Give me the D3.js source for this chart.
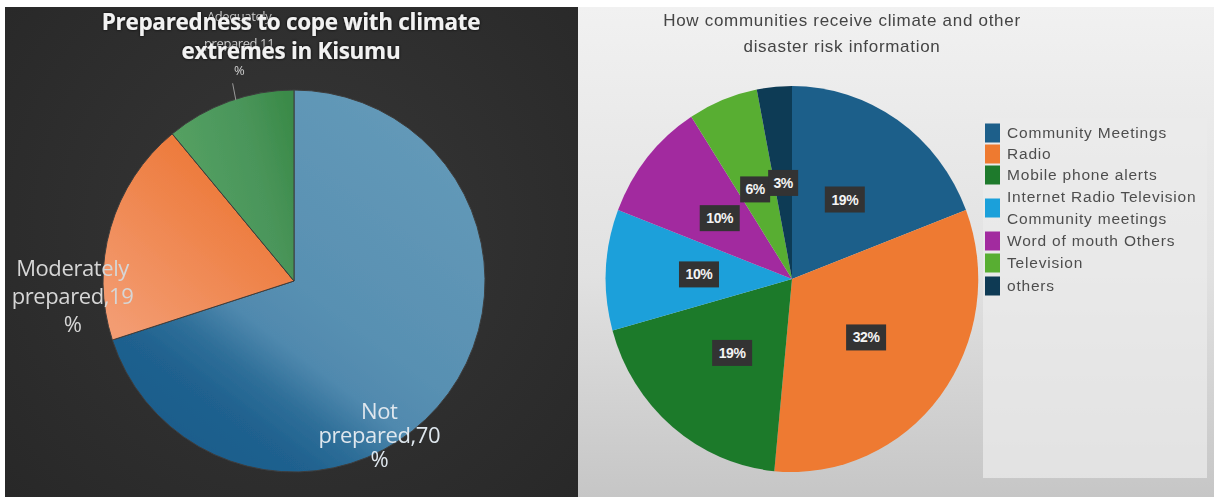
<!DOCTYPE html>
<html>
<head>
<meta charset="utf-8">
<script src="https://cdn.jsdelivr.net/npm/d3@7"></script>
<style>
  body { margin: 0; background: #ffffff; }
  svg { display: block; }
</style>
</head>
<body>
<svg id="chart" width="1214" height="497"></svg>
<script>
// ---- data ----
const prepTitle = ["Preparedness to cope with climate", "extremes in Kisumu"];
const prepCategories = ["Not prepared", "Moderately prepared", "Adequately prepared"];
const prepValues = [70, 19, 11];

const infoTitle = ["How communities receive climate and other", "disaster risk information"];
const infoCategories = [
  "Community Meetings",
  "Radio",
  "Mobile phone alerts",
  "Internet Radio Television Community meetings",
  "Word of mouth Others",
  "Television",
  "others"
];
const infoLegendLines = [
  ["Community Meetings"],
  ["Radio"],
  ["Mobile phone alerts"],
  ["Internet Radio Television", "Community meetings"],
  ["Word of mouth Others"],
  ["Television"],
  ["others"]
];
const infoValues = [19, 32, 19, 10, 10, 6, 3];

// ---- styling / layout ----
const infoColors = ["#1d5f8a", "#ee7a30", "#1e7a2c", "#1ba0da", "#a22b9f", "#58ae32", "#0e3a54"];
const prepFills = ["url(#gBlue)", "url(#gOrange)", "url(#gGreen)"];
// label anchors as [angle in degrees clockwise from 12 o'clock, distance from pie centre]
const prepLabelPolar = [[151, 176], [266, 222], [347, 244]];
const prepLabelStyle = [
  { size: 22, color: "#dfe7ee", lh: 24 },
  { size: 22, color: "#d6d6d6", lh: 28 },
  { size: 13, color: "#cfcfcf", lh: 27 }
];

const svg = d3.select("#chart");
const defs = svg.append("defs");

// panel backgrounds
const bgL = defs.append("radialGradient").attr("id", "bgLeft")
  .attr("gradientUnits", "userSpaceOnUse").attr("cx", 300).attr("cy", 230).attr("r", 420);
bgL.append("stop").attr("offset", 0).attr("stop-color", "#373737");
bgL.append("stop").attr("offset", 1).attr("stop-color", "#272727");

const bgR = defs.append("linearGradient").attr("id", "bgRight")
  .attr("x1", 0).attr("y1", 0).attr("x2", 0).attr("y2", 1);
bgR.append("stop").attr("offset", 0).attr("stop-color", "#f1f1f1");
bgR.append("stop").attr("offset", 0.55).attr("stop-color", "#e1e1e1");
bgR.append("stop").attr("offset", 1).attr("stop-color", "#c6c6c6");

// slice shading for the left pie (coordinates relative to the pie centre)
const gBlue = defs.append("linearGradient").attr("id", "gBlue")
  .attr("gradientUnits", "userSpaceOnUse").attr("x1", 120).attr("y1", -160).attr("x2", -120).attr("y2", 160);
[[0, "#6399b8"], [0.5, "#5890b2"], [0.64, "#5089ae"], [0.75, "#2f6f99"], [0.85, "#20628f"], [1, "#1b5c8b"]]
  .forEach(([o, c]) => gBlue.append("stop").attr("offset", o).attr("stop-color", c));

const gOrange = defs.append("linearGradient").attr("id", "gOrange")
  .attr("gradientUnits", "userSpaceOnUse").attr("x1", -34).attr("y1", -111).attr("x2", -174).attr("y2", 49);
gOrange.append("stop").attr("offset", 0).attr("stop-color", "#ec7533");
gOrange.append("stop").attr("offset", 1).attr("stop-color", "#f39c72");

const gGreen = defs.append("linearGradient").attr("id", "gGreen")
  .attr("gradientUnits", "userSpaceOnUse").attr("x1", -114).attr("y1", -131).attr("x2", 0).attr("y2", -161);
gGreen.append("stop").attr("offset", 0).attr("stop-color", "#54a062");
gGreen.append("stop").attr("offset", 0.6).attr("stop-color", "#4a955a");
gGreen.append("stop").attr("offset", 1).attr("stop-color", "#3a8a48");

const glow = defs.append("filter").attr("id", "glow")
  .attr("x", "-10%").attr("y", "-30%").attr("width", "120%").attr("height", "160%");
glow.append("feDropShadow").attr("dx", 0).attr("dy", 0).attr("stdDeviation", 1.6)
  .attr("flood-color", "#000").attr("flood-opacity", 0.9);

const soft = defs.append("filter").attr("id", "soft");
soft.append("feGaussianBlur").attr("stdDeviation", 0.45);

// ================= left panel =================
svg.append("rect").attr("x", 5).attr("y", 7).attr("width", 573).attr("height", 490)
  .attr("fill", "url(#bgLeft)");

const L = { cx: 294, cy: 281, r: 191 };
const prepPie = d3.pie().sort(null).value(d => d)(prepValues);
const prepArc = d3.arc().innerRadius(0).outerRadius(L.r);
const gL = svg.append("g").attr("transform", `translate(${L.cx},${L.cy})`);

gL.selectAll("path.slice").data(prepPie).join("path")
  .attr("class", "slice")
  .attr("d", prepArc)
  .attr("fill", (d, i) => prepFills[i])
  .attr("stroke", "#3d3d3d")
  .attr("stroke-width", 1)
  .attr("filter", "url(#soft)");

// leader line for the small slice
const small = prepPie[2];
const leadAng = small.startAngle + (small.endAngle - small.startAngle) * 0.55;
const p0 = d3.pointRadial(leadAng, L.r - 1);
const p1 = d3.pointRadial(leadAng + 0.01, L.r + 16);
gL.append("line").attr("x1", p0[0]).attr("y1", p0[1]).attr("x2", p1[0]).attr("y2", p1[1])
  .attr("stroke", "#9a9a9a").attr("stroke-width", 1);

// slice labels "Name,value %"
prepCategories.forEach((name, i) => {
  const words = name.split(" ");
  const lines = [words.slice(0, -1).join(" "), words[words.length - 1] + "," + prepValues[i], "%"];
  const [ang, dist] = prepLabelPolar[i];
  const [x, y] = d3.pointRadial(ang * Math.PI / 180, dist);
  const st = prepLabelStyle[i];
  const t = gL.append("text")
    .attr("text-anchor", "middle")
    .attr("font-family", "'Open Sans', 'Noto Sans', sans-serif")
    .attr("font-size", st.size)
    .attr("letter-spacing", -0.4)
    .attr("fill", st.color)
    .attr("filter", "url(#soft)");
  lines.forEach((ln, k) => {
    t.append("tspan").attr("x", x).attr("y", y + (k - 1) * st.lh + st.size * 0.35).text(ln);
  });
});

// title
const tL = svg.append("text")
  .attr("text-anchor", "middle")
  .attr("font-family", "'Open Sans', 'Noto Sans', sans-serif")
  .attr("font-weight", 700)
  .attr("font-size", 22.5)
  .attr("letter-spacing", -0.3)
  .attr("fill", "#f2f2f2")
  .attr("filter", "url(#glow)");
prepTitle.forEach((ln, k) => tL.append("tspan").attr("x", 291).attr("y", 30 + k * 29).text(ln));

// ================= right panel =================
svg.append("rect").attr("x", 578).attr("y", 7).attr("width", 636).attr("height", 490)
  .attr("fill", "url(#bgRight)");

// legend backdrop
svg.append("rect").attr("x", 983).attr("y", 118).attr("width", 224).attr("height", 360)
  .attr("fill", "#ebebeb").attr("opacity", 0.75);

const R = { cx: 792, cy: 279, r: 193, sx: 0.965 };
const infoPie = d3.pie().sort(null).value(d => d)(infoValues);
const infoArc = d3.arc().innerRadius(0).outerRadius(R.r);
const gR = svg.append("g").attr("transform", `translate(${R.cx},${R.cy})`);

gR.append("g").attr("transform", `scale(${R.sx},1)`)
  .selectAll("path").data(infoPie).join("path")
  .attr("d", infoArc)
  .attr("fill", (d, i) => infoColors[i])
  .attr("filter", "url(#soft)");

// value tags
const tagH = 26;
const tags = infoPie.map((d, i) => {
  const c = infoArc.centroid(d);
  const label = infoValues[i] + "%";
  const w = label.length >= 3 ? 40 : 30;
  return { x: c[0] * R.sx, y: c[1], w, label };
});
// keep neighbouring tags from covering each other
for (let i = tags.length - 2; i >= 0; i--) {
  const a = tags[i], b = tags[i + 1];
  const overlapX = (a.w + b.w) / 2 - Math.abs(a.x - b.x);
  const overlapY = tagH - Math.abs(a.y - b.y);
  if (overlapX > 0 && overlapY > 0 && a.x < b.x) a.x -= overlapX - 2;
}
const tagG = gR.selectAll("g.tag").data(tags).join("g")
  .attr("class", "tag")
  .attr("transform", d => `translate(${d.x},${d.y})`);
tagG.append("rect")
  .attr("x", d => -d.w / 2).attr("y", -tagH / 2)
  .attr("width", d => d.w).attr("height", tagH)
  .attr("fill", "#333333");
tagG.append("text")
  .attr("text-anchor", "middle")
  .attr("dy", "0.36em")
  .attr("font-family", "'Liberation Sans', Arial, sans-serif")
  .attr("font-weight", 700)
  .attr("font-size", 14)
  .attr("letter-spacing", -0.4)
  .attr("fill", "#f4f4f4")
  .text(d => d.label);

// legend
const legY = [133, 154, 175, 208, 241, 263, 286];
const legend = svg.append("g").attr("transform", "translate(985,0)");
infoLegendLines.forEach((lines, i) => {
  legend.append("rect")
    .attr("x", 0).attr("y", legY[i] - 9.5)
    .attr("width", 15).attr("height", 19)
    .attr("fill", infoColors[i]);
  const t = legend.append("text")
    .attr("font-family", "'Liberation Sans', Arial, sans-serif")
    .attr("font-size", 15.5)
    .attr("letter-spacing", 0.8)
    .attr("fill", "#4e4e4e")
    .attr("filter", "url(#soft)");
  lines.forEach((ln, k) => {
    t.append("tspan").attr("x", 22)
      .attr("y", legY[i] + 5 + (k - (lines.length - 1) / 2) * 22)
      .text(ln);
  });
});

// title
const tR = svg.append("text")
  .attr("text-anchor", "middle")
  .attr("font-family", "'Liberation Sans', Arial, sans-serif")
  .attr("font-size", 17)
  .attr("letter-spacing", 0.7)
  .attr("fill", "#444444")
  .attr("filter", "url(#soft)");
infoTitle.forEach((ln, k) => tR.append("tspan").attr("x", 842).attr("y", 26 + k * 26).text(ln));
</script>
</body>
</html>
